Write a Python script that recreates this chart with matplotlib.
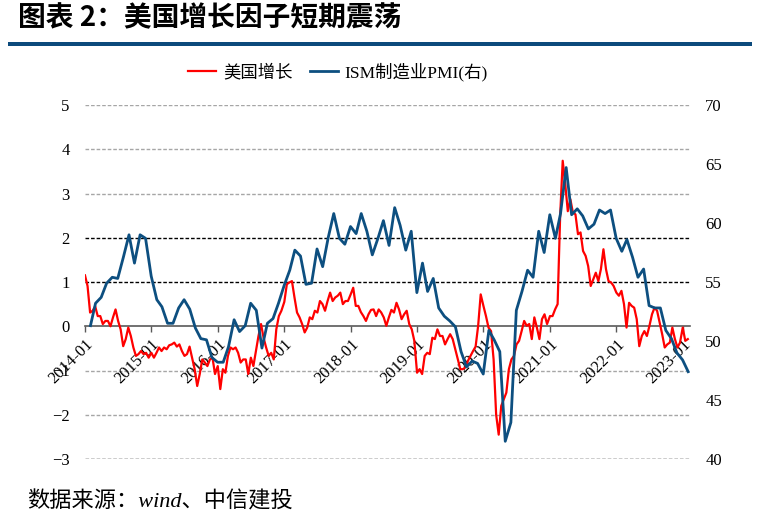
import matplotlib
matplotlib.use('Agg')
import matplotlib.pyplot as plt
import numpy as np
import pandas as pd
from matplotlib.patches import Rectangle

plt.rcParams['font.family'] = ['Liberation Serif', 'Noto Sans CJK SC']

# 美国增长 (left axis), 26 points per year
red_2014 = [1.15, 0.91, 0.31, 0.35, 0.45, 0.23, 0.23, 0.05, 0.12, 0.12, 0.0, 0.2, 0.38,
            0.12, -0.07, -0.45, -0.29, -0.03, -0.22, -0.48, -0.67, -0.63, -0.56, -0.63, -0.6, -0.71]
red_2015 = [-0.60, -0.71, -0.60, -0.48, -0.56, -0.48, -0.52, -0.43, -0.41, -0.37, -0.46, -0.41, -0.56,
            -0.67, -0.63, -0.46, -0.71, -0.97, -1.35, -1.08, -0.75, -0.82, -0.90, -0.75, -0.71, -1.08]
red_2016 = [-0.90, -1.42, -0.97, -1.05, -0.67, -0.48, -0.52, -0.48, -0.60, -0.82, -0.75, -0.75, -1.08,
            -0.71, -0.90, -0.56, -0.22, 0.05, -0.26, -0.48, -0.67, -0.60, -0.75, -0.07, 0.23, 0.35]
red_2017 = [0.55, 0.95, 0.99, 1.02, 0.65, 0.31, 0.2, 0.05, -0.14, -0.03, 0.2, 0.16, 0.35,
            0.31, 0.57, 0.5, 0.35, 0.57, 0.76, 0.57, 0.65, 0.69, 0.76, 0.5, 0.57, 0.57]
red_2018 = [0.72, 0.87, 0.46, 0.46, 0.32, 0.23, 0.12, 0.27, 0.37, 0.38, 0.23, 0.38, 0.31,
            0.2, 0.01, 0.2, 0.37, 0.31, 0.53, 0.38, 0.16, 0.27, 0.35, 0.05, -0.07, -0.33]
red_2019 = [-1.05, -0.97, -1.08, -0.67, -0.6, -0.63, -0.26, -0.29, -0.07, -0.22, -0.22, -0.41, -0.29,
            -0.18, -0.29, -0.52, -0.75, -0.97, -0.97, -0.93, -0.78, -0.67, -0.56, -0.46, 0.01, 0.72]
red_2020 = [0.46, 0.23, -0.03, -0.11, -0.75, -2.0, -2.45, -1.8, -1.65, -1.5, -0.97, -0.75, -0.67,
            -0.41, -0.33, -0.11, 0.12, 0.01, 0.05, -0.29, 0.2, -0.03, -0.29, 0.16, 0.27, 0.05]
red_2021 = [0.23, 0.23, 0.38, 0.5, 2.5, 3.74, 3.21, 2.6, 2.87, 2.57, 2.53, 2.08, 2.12,
            1.7, 1.59, 1.36, 0.91, 1.06, 1.21, 1.02, 1.29, 1.74, 1.29, 1.02, 0.99, 0.91]
red_2022 = [0.76, 0.69, 0.8, 0.5, -0.03, 0.53, 0.46, 0.42, 0.16, -0.45, -0.22, -0.11, -0.22,
            0.01, 0.27, 0.42, 0.35, 0.08, -0.18, -0.48, -0.41, -0.37, -0.03, -0.29, -0.48, -0.37]
red_2023 = [-0.03, -0.33, -0.29]

# ISM制造业PMI, monthly 2014-01 .. 2023-01 (right axis)
ism_pmi = [51.3, 53.2, 53.7, 54.9, 55.4, 55.3, 57.1, 59.0, 56.6, 59.0, 58.7, 55.5,
           53.5, 52.9, 51.5, 51.5, 52.8, 53.5, 52.7, 51.1, 50.2, 50.1, 48.6, 48.2,
           48.2, 49.5, 51.8, 50.8, 51.3, 53.2, 52.6, 49.4, 51.5, 51.9, 53.2, 54.7,
           56.0, 57.7, 57.2, 54.8, 54.9, 57.8, 56.3, 58.8, 60.8, 58.7, 58.2, 59.7,
           59.1, 60.8, 59.3, 57.3, 58.7, 60.2, 58.1, 61.3, 59.8, 57.7, 59.3, 54.1,
           56.6, 54.2, 55.3, 52.8, 52.1, 51.7, 51.2, 49.1, 47.8, 48.3, 48.1, 47.2,
           50.9, 50.1, 49.1, 41.5, 43.1, 52.6, 54.2, 56.0, 55.4, 59.3, 57.5, 60.7,
           58.7, 60.8, 64.7, 60.7, 61.2, 60.6, 59.5, 59.9, 61.1, 60.8, 61.1, 58.7,
           57.6, 58.6, 57.1, 55.4, 56.1, 53.0, 52.8, 52.8, 50.9, 50.2, 49.0, 48.4,
           47.4]

years = list(range(2014, 2024))
red_by_year = [red_2014, red_2015, red_2016, red_2017, red_2018,
               red_2019, red_2020, red_2021, red_2022, red_2023]
red_dates = pd.DatetimeIndex(np.concatenate(
    [pd.date_range(f'{y}-01-01', periods=len(v), freq='14D') for y, v in zip(years, red_by_year)]))
red_values = np.concatenate(red_by_year)
ism_dates = pd.date_range('2014-01-31', periods=len(ism_pmi), freq='ME')

left_ticks = [-3, -2, -1, 0, 1, 2, 3, 4, 5]
right_ticks = [40, 45, 50, 55, 60, 65, 70]
x_ticks = pd.date_range('2014-01-01', '2023-01-01', freq='YS')
x_labels = [d.strftime('%Y-%m') for d in x_ticks]

RED = '#ff0000'
BLUE = '#0d4f80'

fig = plt.figure(figsize=(7.59, 5.22), dpi=100)
ax = fig.add_axes([85 / 759, 1 - 459 / 522, 605 / 759, 354 / 522])

l1, = ax.plot(red_dates, red_values, color=RED, lw=1.6, zorder=3)
ax.set_ylim(-3, 5)
ax.set_xlim(pd.Timestamp('2014-01-01'), pd.Timestamp('2023-02-10'))
ax.set_yticks(left_ticks)
ax.tick_params(axis='y', length=0, pad=11, labelsize=12)

# gridlines: grey and black dashes as in the source
grid_colors = {-3: 'black', -2: '#a6a6a6', -1: '#a6a6a6', 1: 'black', 2: 'black',
               3: '#a6a6a6', 4: '#a6a6a6', 5: '#a6a6a6'}
for v, c in grid_colors.items():
    ax.axhline(v, color=c, lw=1.0, dashes=(2.6, 1.4), zorder=1)

for s in ['top', 'right', 'left']:
    ax.spines[s].set_visible(False)
ax.spines['bottom'].set_position(('data', 0))
ax.spines['bottom'].set_color('#595959')
ax.spines['bottom'].set_linewidth(1.2)
ax.set_xticks(x_ticks)
ax.set_xticklabels(x_labels, rotation=45, ha='right', va='top', rotation_mode='anchor')
ax.tick_params(axis='x', direction='out', length=4, width=1, color='#595959', labelsize=12, pad=3)

ax2 = ax.twinx()
l2, = ax2.plot(ism_dates, ism_pmi, color=BLUE, lw=2.0, zorder=4)
ax2.set_ylim(40, 70)
ax2.set_yticks(right_ticks)
ax2.tick_params(axis='y', length=0, pad=11, labelsize=12)
for s in ax2.spines.values():
    s.set_visible(False)

fig.legend(handles=[l1, l2], labels=['美国增长', 'ISM制造业PMI(右)'], loc='center',
           bbox_to_anchor=(338 / 759, 1 - 72 / 522), ncol=2, frameon=False, fontsize=12.5,
           handlelength=1.6, handletextpad=0.4, columnspacing=1.0)

fig.text(18 / 759, 1 - 18 / 522, '图表 2：美国增长因子短期震荡', fontsize=20, fontweight='bold',
         va='center', ha='left', family=['Noto Sans CJK SC'])
fig.add_artist(Rectangle((8 / 759, 1 - 46 / 522), 744 / 759, 4.5 / 522,
                         transform=fig.transFigure, color='#0c4a7c', lw=0))
fig.text(27 / 759, 1 - 502 / 522, '数据来源：wind、中信建投', fontsize=16, style='italic',
         va='center', ha='left')

fig.savefig('out.png', dpi=100)
